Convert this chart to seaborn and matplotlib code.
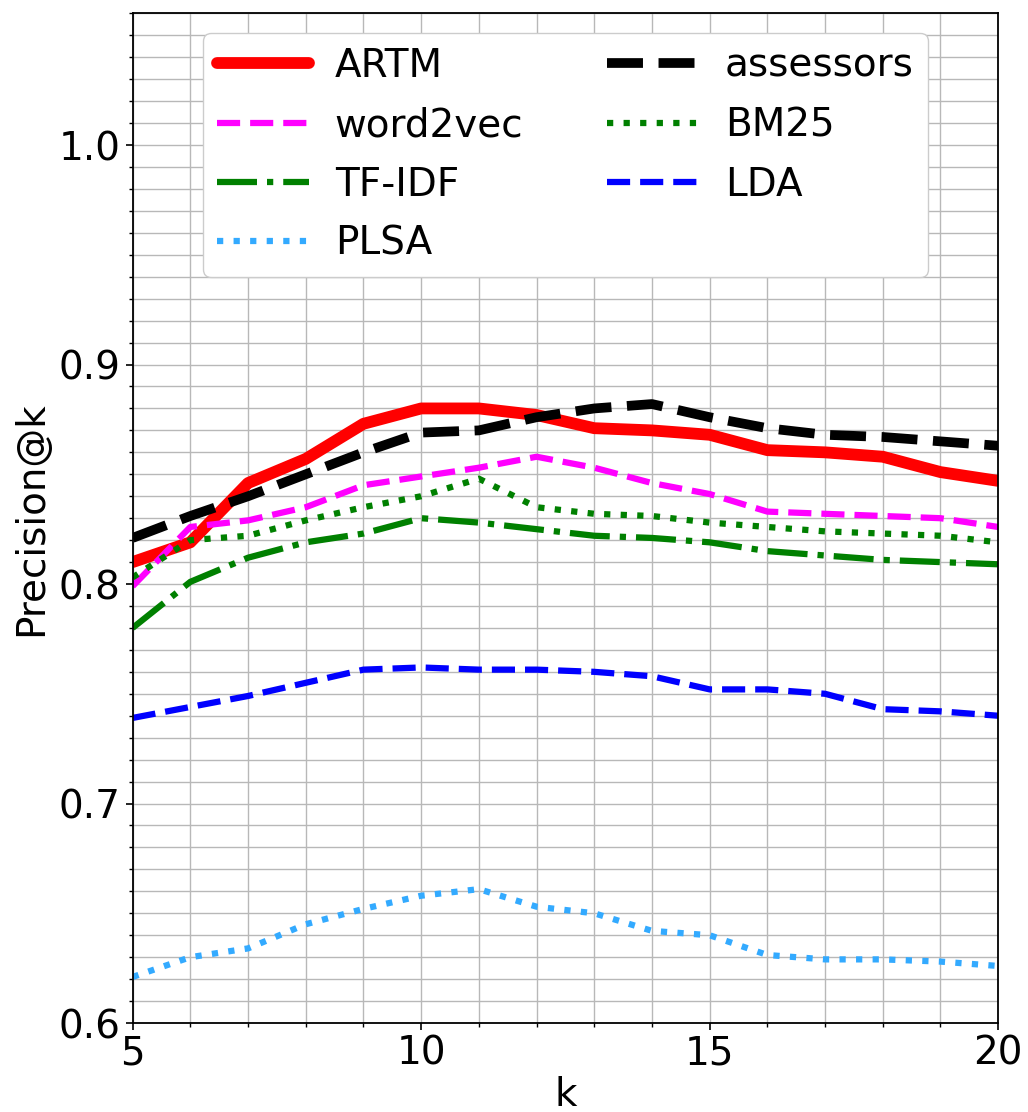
import numpy as np
import pandas as pd
import matplotlib
matplotlib.use("Agg")
import matplotlib.pyplot as plt
from matplotlib.ticker import MultipleLocator
import seaborn as sns

# --- data ---
k = [5, 6, 7, 8, 9, 10, 11, 12, 13, 14, 15, 16, 17, 18, 19, 20]
artm = [0.810, 0.819, 0.846, 0.857, 0.873, 0.880, 0.880, 0.877, 0.871, 0.870,
        0.868, 0.861, 0.860, 0.858, 0.851, 0.847]
assessors = [0.821, 0.831, 0.840, 0.850, 0.860, 0.869, 0.870, 0.876, 0.880, 0.882,
             0.876, 0.871, 0.868, 0.867, 0.865, 0.863]
word2vec = [0.799, 0.826, 0.829, 0.835, 0.845, 0.849, 0.853, 0.858, 0.853, 0.846,
            0.841, 0.833, 0.832, 0.831, 0.830, 0.826]
bm25 = [0.803, 0.820, 0.822, 0.829, 0.835, 0.840, 0.848, 0.835, 0.832, 0.831,
        0.828, 0.826, 0.824, 0.823, 0.822, 0.819]
tfidf = [0.780, 0.801, 0.812, 0.819, 0.823, 0.830, 0.828, 0.825, 0.822, 0.821,
         0.819, 0.815, 0.813, 0.811, 0.810, 0.809]
lda = [0.739, 0.744, 0.749, 0.755, 0.761, 0.762, 0.761, 0.761, 0.760, 0.758,
       0.752, 0.752, 0.750, 0.743, 0.742, 0.740]
plsa = [0.621, 0.630, 0.634, 0.645, 0.652, 0.658, 0.661, 0.653, 0.650, 0.642,
        0.640, 0.631, 0.629, 0.629, 0.628, 0.626]

series = [
    ("ARTM", artm, "red", "-", 8.5),
    ("assessors", assessors, "black", "--", 7),
    ("word2vec", word2vec, "magenta", "--", 4.5),
    ("BM25", bm25, "green", ":", 4.5),
    ("TF-IDF", tfidf, "green", "-.", 4.5),
    ("LDA", lda, "blue", "--", 4.5),
    ("PLSA", plsa, "#33aaff", ":", 4.5),
]

sns.set_theme(style="white")
plt.rcParams["font.family"] = ["DejaVu Sans"]
plt.rcParams["text.color"] = "black"
plt.rcParams["axes.labelcolor"] = "black"

fig, ax = plt.subplots(figsize=(10.28, 11.12), dpi=100)
fig.subplots_adjust(left=0.129, right=0.971, top=0.988, bottom=0.080)

for name, vals, color, ls, lw in series:
    sns.lineplot(x=k, y=vals, ax=ax, color=color, linestyle=ls, linewidth=lw, label=name)

ax.set_xlim(5, 20)
ax.set_ylim(0.6, 1.06)
ax.xaxis.set_major_locator(MultipleLocator(5))
ax.xaxis.set_minor_locator(MultipleLocator(1))
ax.yaxis.set_major_locator(MultipleLocator(0.1))
ax.yaxis.set_minor_locator(MultipleLocator(0.01))
ax.grid(which="both", color="#b8b8b8", linewidth=1.0)
ax.set_axisbelow(True)
ax.tick_params(which="both", direction="out", left=True, bottom=True, labelsize=28, colors="black")
ax.tick_params(which="major", length=5, width=1.2)
ax.tick_params(which="minor", length=3, width=1.0)
for sp in ax.spines.values():
    sp.set_color("black")
    sp.set_linewidth(1.3)

ax.set_xlabel("k", fontsize=28, labelpad=2, color="black")
ax.set_ylabel("Precision@k", fontsize=28, labelpad=6, color="black")

# legend filled row by row: matplotlib fills columns, so reorder
handles, labels = ax.get_legend_handles_labels()
order = [0, 2, 4, 6, 1, 3, 5]
leg = ax.legend([handles[i] for i in order], [labels[i] for i in order],
                loc="upper center", ncol=2, fontsize=28, framealpha=1.0,
                handlelength=2.37, handletextpad=0.65, columnspacing=2.16,
                borderpad=0.36, labelspacing=0.55)
leg.get_frame().set_edgecolor("#cccccc")
for t in leg.get_texts():
    t.set_color("black")

fig.savefig("out.png", dpi=100)
